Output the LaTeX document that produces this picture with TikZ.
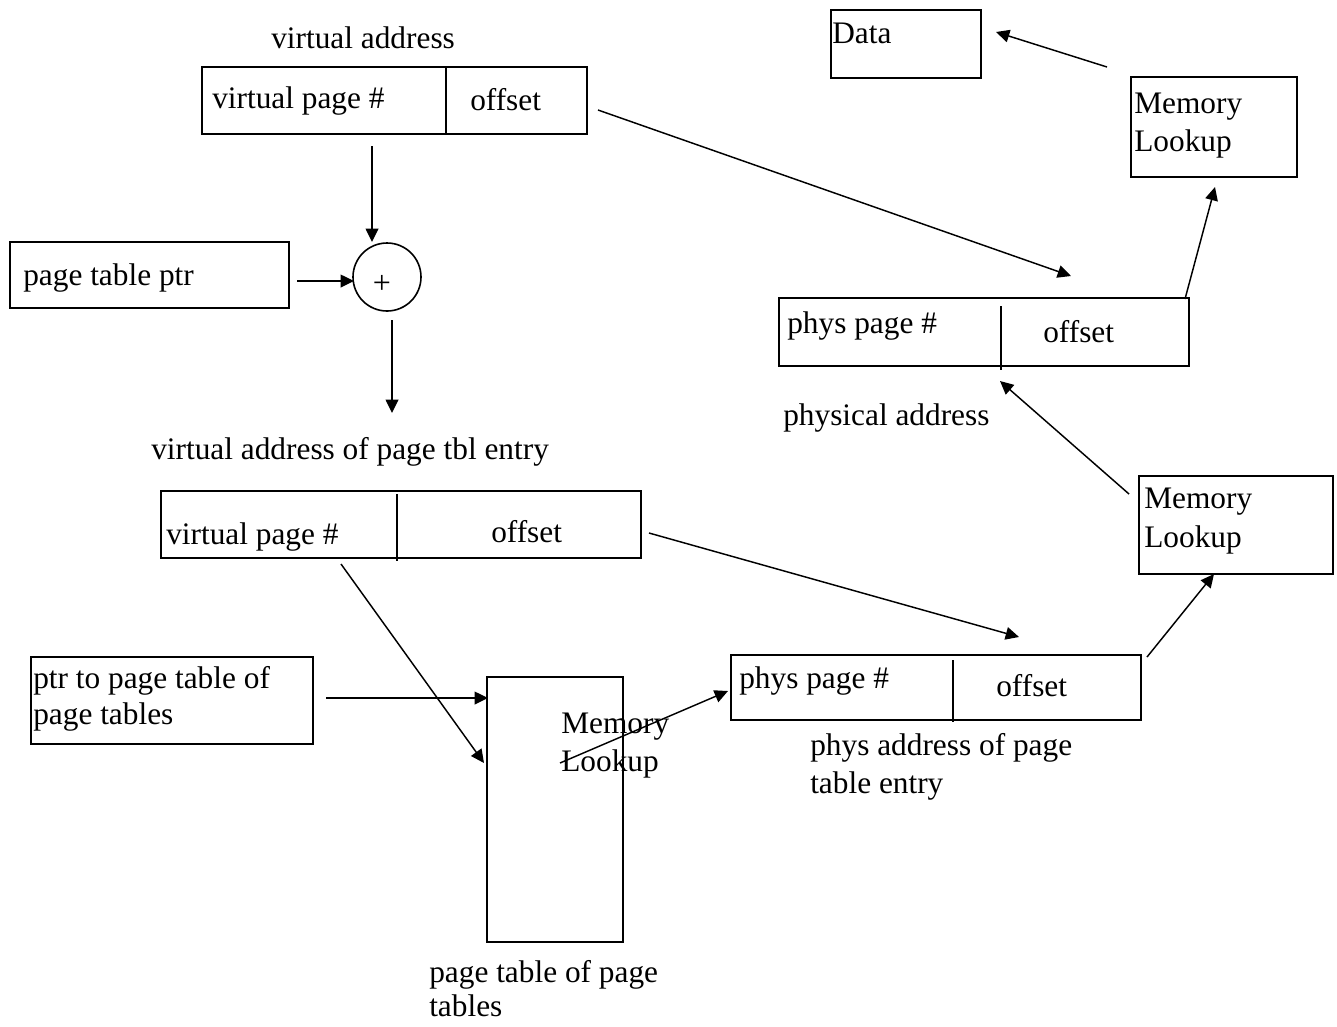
\documentclass[tikz,border=0pt]{standalone}
\usepackage{fontspec}
\setmainfont{Liberation Serif}
\usetikzlibrary{arrows.meta,fit}
\begin{document}
\begin{tikzpicture}[x=0.75pt,y=-0.75pt,
  box/.style={draw, line width=1.4pt, inner sep=0pt},
  conn/.style={line width=1.1pt, -{Triangle[length=10pt,width=9.5pt]}},
  divider/.style={line width=1pt},
  lbl/.style={anchor=base west, inner sep=0pt, font=\fontsize{23.5}{28}\selectfont},
]
\useasboundingbox (0,0) rectangle (1337,1026);

% ---------- boxes ----------
\node[box, fit={(202,67) (587,134)}] (va) {};
\draw[divider] (446,67) -- (446,134);
\node[box, fit={(10,242) (289,308)}] (ptp) {};
\node[draw, circle, line width=1.2pt, minimum size=51pt, inner sep=0pt] (plus) at (387,277) {};
\node[box, fit={(161,491) (641,558)}] (va2) {};
\draw[divider] (397,494) -- (397,561);
\node[box, fit={(31,657) (313,744)}] (ptpt) {};
\node[box, fit={(487,677) (623,942)}] (ptt) {};
\node[box, fit={(731,655) (1141,720)}] (pa2) {};
\draw[divider] (953,660) -- (953,722);
\node[box, fit={(1139,476) (1333,574)}] (ml2) {};
\node[box, fit={(779,298) (1189,366)}] (pa) {};
\draw[divider] (1001,306) -- (1001,370);
\node[box, fit={(1131,77) (1297,177)}] (ml1) {};
\node[box, fit={(831,10) (981,78)}] (data) {};

% ---------- texts ----------
\node[lbl] (tva) at (271,48) {virtual address};
\node[lbl] (tvpn) at (212,108) {virtual page \#};
\node[lbl] (toff) at (470,110) {offset};
\node[lbl] (tptp) at (23,285) {page table ptr};
\node[anchor=center, inner sep=0pt, font=\fontsize{24}{28}\selectfont] (tplus) at (382,284) {+};
\node[lbl] (tva2) at (151,459) {virtual address of page tbl entry};
\node[lbl] (tvpn2) at (166,544) {virtual page \#};
\node[lbl] (toff2) at (491,542) {offset};
\node[lbl] (tptpta) at (33,688) {ptr to page table of};
\node[lbl] (tptptb) at (33,724) {page tables};
\node[lbl] (tmla) at (561,733) {Memory};
\node[lbl] (tmlb) at (561,771) {Lookup};
\node[lbl] (tptta) at (429,982) {page table of page};
\node[lbl] (tpttb) at (429,1016) {tables};
\node[lbl] (tppn2) at (739,688) {phys page \#};
\node[lbl] (toff3) at (996,696) {offset};
\node[lbl] (tpa2a) at (810,755) {phys address of page};
\node[lbl] (tpa2b) at (810,793) {table entry};
\node[lbl] (tml2a) at (1144,508) {Memory};
\node[lbl] (tml2b) at (1144,547) {Lookup};
\node[lbl] (tppn) at (787,333) {phys page \#};
\node[lbl] (toff4) at (1043,342) {offset};
\node[lbl] (tpa) at (783,425) {physical address};
\node[lbl] (tml1a) at (1134,113) {Memory};
\node[lbl] (tml1b) at (1134,151) {Lookup};
\node[lbl] (tdata) at (832,43) {Data};

% ---------- connector ends ----------
\coordinate (c1s) at (372,146);  \coordinate (c1e) at (372,242);
\coordinate (c2s) at (297,281);  \coordinate (c2e) at (354,281);
\coordinate (c3s) at (392,320);  \coordinate (c3e) at (392,413);
\coordinate (c4s) at (598,110);  \coordinate (c4e) at (1071,276);
\coordinate (c5s) at (649,533);  \coordinate (c5e) at (1019,637);
\coordinate (c6s) at (341,564);  \coordinate (c6e) at (484,763);
\coordinate (c7s) at (326,698);  \coordinate (c7e) at (488,698);
\coordinate (c8s) at (560,763);  \coordinate (c8e) at (728,691);
\coordinate (c9s) at (1147,657); \coordinate (c9e) at (1214,574);
\coordinate (c10s) at (1129,494); \coordinate (c10e) at (1000,381);
\coordinate (c11s) at (1185,299); \coordinate (c11e) at (1215,187);
\coordinate (c12s) at (1107,67); \coordinate (c12e) at (996,32);

\draw[conn] (c1s) -- (c1e);
\draw[conn] (c2s) -- (c2e);
\draw[conn] (c3s) -- (c3e);
\draw[conn] (c4s) -- (c4e);
\draw[conn] (c5s) -- (c5e);
\draw[conn] (c6s) -- (c6e);
\draw[conn] (c7s) -- (c7e);
\draw[conn] (c8s) -- (c8e);
\draw[conn] (c9s) -- (c9e);
\draw[conn] (c10s) -- (c10e);
\draw[conn] (c11s) -- (c11e);
\draw[conn] (c12s) -- (c12e);
\end{tikzpicture}
\end{document}
